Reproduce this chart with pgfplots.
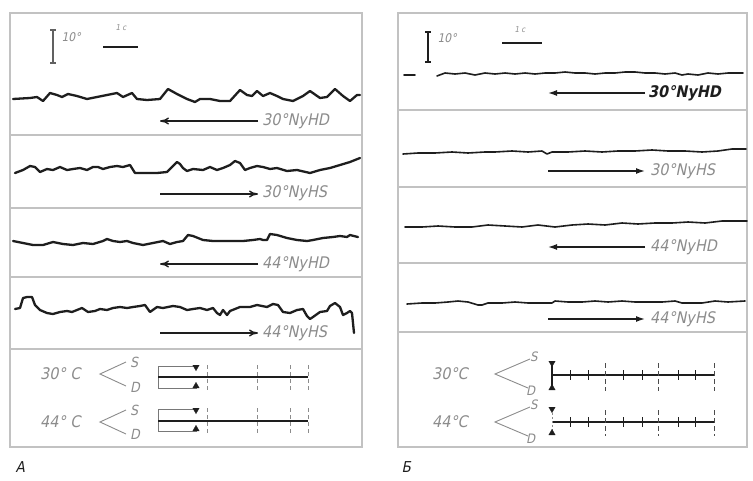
\documentclass[border=0pt]{standalone}
\usepackage{pgfplots}
\pgfplotsset{compat=1.18}
\usepackage{fontspec}
\setmainfont{DejaVu Sans}
\newfontfamily\lab[FakeSlant=0.2,FakeStretch=0.9]{DejaVu Sans}
\usetikzlibrary{arrows.meta}
\definecolor{ink}{HTML}{1E1E1E}
\definecolor{frame}{HTML}{C2C2C2}
\definecolor{note}{HTML}{8C8C8C}

\begin{document}
\begin{tikzpicture}[
  trA/.style={ink, line width=2.3pt, line join=round, line cap=round},
  trB/.style={ink, line width=1.6pt, line join=round, line cap=round},
  arr/.style={ink, line width=1.4pt},
  lbl/.style={font=\lab\fontsize{16}{16}\selectfont, text=note, inner sep=0pt, anchor=west},
  fr/.style={frame, line width=1.4pt},
]
\begin{axis}[
  x=1pt, y=1pt, y dir=reverse,
  xmin=0, xmax=753, ymin=0, ymax=480,
  hide axis, clip=false, scale only axis,
  unbounded coords=jump,
]
% page background
\fill[white] (axis cs:0,0) rectangle (axis cs:753,480);

% ---------------- panel A: frames ----------------
\draw[fr] (axis cs:10,13) rectangle (axis cs:362,447);
\foreach \yy in {135,208,277,349} {\edef\tmp{\noexpand\draw[fr] (axis cs:10,\yy) -- (axis cs:362,\yy);}\tmp}

% scale bars
\draw[ink!70, line width=1.3pt] (axis cs:53,30) -- (axis cs:53,63)
   (axis cs:50,30) -- (axis cs:56,30) (axis cs:50,63) -- (axis cs:56,63);
\node[font=\lab\fontsize{12}{12}\selectfont, text=note, anchor=west] at (axis cs:58,37) {10°};
\draw[ink, line width=1.8pt] (axis cs:103,47) -- (axis cs:138,47);
\node[font=\lab\fontsize{8}{8}\selectfont, text=note] at (axis cs:121,28) {1 c};

% 30 NyHD
\addplot[trA] coordinates {(13,99)(30,98)(37,97)(43,101)(50,93)(57,95)(62,97)(68,94)(77,96)(87,99)(97,97)(107,95)(117,93)(123,97)(132,93)(137,99)(147,100)(160,99)(168,89)(177,94)(187,99)(195,102)(200,99)(210,99)(220,101)(230,101)(240,90)(247,95)(252,96)(257,91)(263,96)(270,93)(277,96)(283,99)(293,101)(303,96)(310,91)(320,98)(327,97)(335,89)(343,96)(350,101)(357,95)(360,95)};
% 30 NyHS
\addplot[trA] coordinates {(15,173)(23,170)(30,166)(35,167)(40,172)(47,169)(53,170)(60,167)(67,170)(73,169)(80,168)(87,170)(93,167)(98,167)(103,169)(110,167)(117,166)(123,167)(130,165)(135,173)(143,173)(157,173)(167,172)(173,166)(177,162)(180,164)(183,168)(187,171)(193,169)(203,170)(210,167)(217,170)(223,168)(230,165)(235,161)(240,163)(245,170)(250,168)(257,166)(263,167)(270,169)(277,168)(287,171)(297,170)(310,173)(320,170)(330,168)(340,165)(350,162)(360,158)};
% 44 NyHD
\addplot[trA] coordinates {(13,241)(23,243)(33,245)(43,245)(53,242)(63,244)(73,245)(83,243)(93,244)(103,241)(107,239)(113,241)(120,242)(127,241)(133,243)(143,245)(153,243)(163,241)(170,244)(177,242)(183,241)(188,235)(193,236)(203,240)(213,241)(223,241)(233,241)(243,241)(253,240)(260,239)(263,240)(267,240)(270,234)(277,235)(287,238)(297,240)(307,241)(313,240)(323,238)(333,237)(340,236)(347,237)(350,235)(358,237)};
% 44 NyHS
\addplot[trA] coordinates {(15,309)(20,308)(23,298)(27,297)(32,297)(35,305)(40,310)(47,313)(53,314)(60,312)(67,311)(72,312)(77,310)(82,308)(88,312)(95,311)(100,309)(107,310)(113,308)(120,307)(127,308)(133,307)(140,306)(145,305)(150,312)(157,307)(163,308)(173,306)(180,307)(187,310)(193,309)(200,308)(207,310)(213,308)(217,313)(220,315)(223,310)(227,315)(230,311)(240,307)(250,307)(257,305)(267,307)(273,304)(278,305)(283,312)(290,313)(297,310)(303,309)(307,316)(310,319)(313,317)(320,312)(327,311)(330,306)(335,303)(340,307)(343,315)(347,313)(350,311)(352,313)(353,323)(354,333)};

% direction arrows and labels
\draw[arr, -{To[length=9pt,width=7pt]}] (axis cs:258,121) -- (axis cs:160,121);
\draw[arr, -{To[length=9pt,width=7pt]}] (axis cs:160,194) -- (axis cs:258,194);
\draw[arr, -{To[length=9pt,width=7pt]}] (axis cs:258,264) -- (axis cs:160,264);
\draw[arr, -{To[length=9pt,width=7pt]}] (axis cs:160,333) -- (axis cs:258,333);
\node[lbl] at (axis cs:262,121) {30°NyHD};
\node[lbl] at (axis cs:262,193) {30°NyHS};
\node[lbl] at (axis cs:262,264) {44°NyHD};
\node[lbl] at (axis cs:262,333) {44°NyHS};

% schematic of S/D positions
\node[lbl] at (axis cs:40,374) {30° C};
\node[lbl] at (axis cs:40,422) {44° C};
\draw[note, line width=0.9pt] (axis cs:126,362) -- (axis cs:100,374) -- (axis cs:126,386);
\draw[note, line width=0.9pt] (axis cs:126,410) -- (axis cs:100,422) -- (axis cs:126,434);
\node[lbl, font=\lab\fontsize{14}{14}\selectfont] at (axis cs:130,362) {S};
\node[lbl, font=\lab\fontsize{14}{14}\selectfont] at (axis cs:130,387) {D};
\node[lbl, font=\lab\fontsize{14}{14}\selectfont] at (axis cs:130,410) {S};
\node[lbl, font=\lab\fontsize{14}{14}\selectfont] at (axis cs:130,434) {D};
\addplot[ink!60, line width=0.9pt] coordinates {(197,366)(158,366)(158,388)(197,388)};
\addplot[ink!60, line width=0.9pt] coordinates {(197,409)(158,409)(158,431)(197,431)};
\addplot[ink, line width=1.8pt] coordinates {(158,377)(308,377)};
\addplot[ink, line width=1.8pt] coordinates {(158,421)(308,421)};
\addplot[only marks, mark=triangle*, mark size=3.6pt, ink, mark options={rotate=180}] coordinates {(196,367)(196,410)};
\addplot[only marks, mark=triangle*, mark size=3.6pt, ink] coordinates {(196,386)(196,429)};
\addplot[note, line width=1pt, dash pattern=on 4pt off 3pt] coordinates {
  (207,365)(207,390)(207,nan)(257,365)(257,390)(257,nan)(290,365)(290,390)(290,nan)(308,365)(308,390)(308,nan)
  (207,408)(207,434)(207,nan)(257,408)(257,434)(257,nan)(290,408)(290,434)(290,nan)(308,408)(308,434)};

\node[font=\lab\fontsize{15}{15}\selectfont, text=ink, anchor=west] at (axis cs:12,467) {A};

% ---------------- panel B: frames ----------------
\draw[fr] (axis cs:398,13) rectangle (axis cs:747,447);
\foreach \yy in {110,187,263,332} {\edef\tmp{\noexpand\draw[fr] (axis cs:398,\yy) -- (axis cs:747,\yy);}\tmp}

\draw[ink, line width=1.4pt] (axis cs:428,32) -- (axis cs:428,62)
   (axis cs:425,32) -- (axis cs:431,32) (axis cs:425,62) -- (axis cs:431,62);
\node[font=\lab\fontsize{12}{12}\selectfont, text=note, anchor=west] at (axis cs:434,38) {10°};
\draw[ink, line width=1.8pt] (axis cs:502,43) -- (axis cs:542,43);
\node[font=\lab\fontsize{8}{8}\selectfont, text=note] at (axis cs:520,30) {1 c};

% 30 NyHD
\addplot[trB] coordinates {(404,75)(415,75)};
\addplot[trB] coordinates {(437,76)(445,73)(455,74)(465,73)(475,75)(485,73)(495,74)(505,73)(515,74)(525,73)(535,74)(545,73)(555,73)(565,72)(575,73)(585,73)(595,74)(605,73)(615,73)(625,72)(635,72)(645,73)(655,73)(665,74)(675,73)(682,75)(688,74)(698,75)(708,73)(718,74)(728,73)(743,73)};
% 30 NyHS
\addplot[trB] coordinates {(403,154)(418,153)(435,153)(452,152)(468,153)(485,152)(495,152)(512,151)(528,152)(542,151)(547,154)(552,152)(568,152)(585,151)(602,152)(618,151)(635,151)(652,150)(668,151)(685,151)(702,152)(718,151)(732,149)(746,149)};
% 44 NyHD
\addplot[trB] coordinates {(405,227)(422,227)(438,226)(455,227)(472,227)(488,225)(505,226)(522,227)(538,225)(555,227)(572,225)(588,224)(605,225)(622,223)(638,224)(655,223)(672,223)(688,222)(705,223)(722,221)(747,221)};
% 44 NyHS
\addplot[trB] coordinates {(407,304)(422,303)(435,303)(448,302)(458,301)(468,302)(478,305)(482,305)(488,303)(502,303)(515,302)(528,303)(542,303)(552,303)(555,301)(568,302)(582,302)(595,301)(608,302)(622,301)(635,302)(648,302)(662,302)(675,301)(682,303)(688,303)(702,303)(715,301)(728,302)(745,301)};

\draw[arr, -{Latex[length=9pt,width=6pt]}] (axis cs:645,93) -- (axis cs:548,93);
\draw[arr, -{Latex[length=9pt,width=6pt]}] (axis cs:548,171) -- (axis cs:645,171);
\draw[arr, -{Latex[length=9pt,width=6pt]}] (axis cs:645,247) -- (axis cs:548,247);
\draw[arr, -{Latex[length=9pt,width=6pt]}] (axis cs:548,319) -- (axis cs:645,319);
\node[lbl, text=ink, font=\lab\bfseries\fontsize{16}{16}\selectfont] at (axis cs:648,93) {30°NyHD};
\node[lbl] at (axis cs:650,171) {30°NyHS};
\node[lbl] at (axis cs:650,247) {44°NyHD};
\node[lbl] at (axis cs:650,319) {44°NyHS};

\node[lbl] at (axis cs:432,374) {30°C};
\node[lbl] at (axis cs:432,422) {44°C};
\draw[note, line width=0.9pt] (axis cs:530,359) -- (axis cs:495,374) -- (axis cs:528,388);
\draw[note, line width=0.9pt] (axis cs:530,407) -- (axis cs:495,422) -- (axis cs:528,436);
\node[lbl, font=\lab\fontsize{13}{13}\selectfont] at (axis cs:530,357) {S};
\node[lbl, font=\lab\fontsize{13}{13}\selectfont] at (axis cs:526,391) {D};
\node[lbl, font=\lab\fontsize{13}{13}\selectfont] at (axis cs:530,405) {S};
\node[lbl, font=\lab\fontsize{13}{13}\selectfont] at (axis cs:526,439) {D};
\addplot[ink, line width=1.8pt] coordinates {(552,375)(715,375)};
\addplot[ink, line width=1.8pt] coordinates {(552,422)(715,422)};
\addplot[ink, line width=1.4pt] coordinates {(552,363)(552,388)};
\addplot[note, line width=1pt, dash pattern=on 2pt off 2pt] coordinates {(552,409)(552,433)};
\addplot[only marks, mark=triangle*, mark size=3.6pt, ink, mark options={rotate=180}] coordinates {(552,363)(552,409)};
\addplot[only marks, mark=triangle*, mark size=3.6pt, ink] coordinates {(552,388)(552,433)};
\addplot[only marks, mark=|, mark size=5pt, ink, mark options={line width=1pt}] coordinates {(570,375)(588,375)(623,375)(642,375)(678,375)(695,375)(570,422)(588,422)(623,422)(642,422)(678,422)(695,422)};
\addplot[ink!80, line width=1pt, dash pattern=on 5pt off 3pt] coordinates {
  (605,363)(605,391)(605,nan)(658,363)(658,391)(658,nan)(714,363)(714,391)(714,nan)
  (605,410)(605,436)(605,nan)(658,410)(658,436)(658,nan)(714,410)(714,436)};

\node[font=\lab\fontsize{15}{15}\selectfont, text=ink, anchor=west] at (axis cs:398,467) {Б};
\end{axis}
\end{tikzpicture}
\end{document}
